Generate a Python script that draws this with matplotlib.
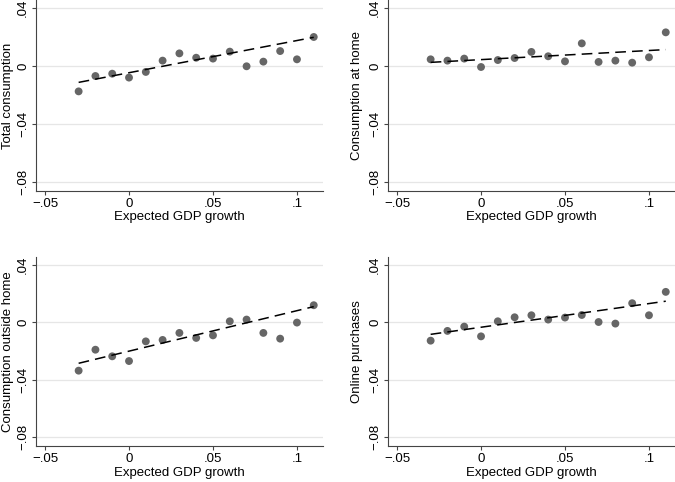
import numpy as np
import matplotlib
matplotlib.use('Agg')
import matplotlib.pyplot as plt

plt.rcParams['font.family'] = ['Liberation Sans', 'DejaVu Sans']

# bin midpoints of expected GDP growth
x = [-0.03, -0.02, -0.01, 0.0, 0.01, 0.02, 0.03, 0.04, 0.05, 0.06, 0.07, 0.08, 0.09, 0.10, 0.11]

total = [-0.0175, -0.0069, -0.0053, -0.0080, -0.0041, 0.0037, 0.0087, 0.0057,
         0.0051, 0.0099, -0.0002, 0.0030, 0.0103, 0.0046, 0.0200]
at_home = [0.0046, 0.0037, 0.0051, -0.0007, 0.0041, 0.0055, 0.0097, 0.0067,
           0.0032, 0.0156, 0.0028, 0.0037, 0.0023, 0.0060, 0.0232]
outside = [-0.0337, -0.0191, -0.0237, -0.0270, -0.0133, -0.0123, -0.0074, -0.0109,
           -0.0091, 0.0007, 0.0019, -0.0074, -0.0114, -0.0002, 0.0119]
online = [-0.0128, -0.0060, -0.0030, -0.0098, 0.0007, 0.0035, 0.0049, 0.0019,
          0.0033, 0.0051, 0.0002, -0.0009, 0.0133, 0.0049, 0.0212]

# fitted lines (intercept, slope) from the underlying regression
fit_total = (-0.00464, 0.222)
fit_home = (0.00439, 0.0629)
fit_outside = (-0.0201, 0.282)
fit_online = (-0.00345, 0.165)

ylabels = ['Total consumption', 'Consumption at home',
           'Consumption outside home', 'Online purchases']
xlabel = 'Expected GDP growth'
xticks = [-0.05, 0, 0.05, 0.1]
xticklabels = ['\u2212.05', '0', '.05', '.1']
yticks = [-0.08, -0.04, 0, 0.04]
yticklabels = ['\u2212.08', '\u2212.04', '0', '.04']

panels = [(total, fit_total), (at_home, fit_home), (outside, fit_outside), (online, fit_online)]

fig = plt.figure(figsize=(6.75, 4.82), dpi=100)
# axes rectangles: [left, bottom, width, height]
boxes = [[0.0533, 0.6037, 0.4252, 0.3963],
         [0.5748, 0.6037, 0.4252, 0.3963],
         [0.0533, 0.0747, 0.4252, 0.3921],
         [0.5748, 0.0747, 0.4252, 0.3921]]
ylab_x = [-0.077, -0.087, -0.077, -0.087]

for i, (ys, fit) in enumerate(panels):
    ax = fig.add_axes(boxes[i])
    ax.set_xlim(-0.0554, 0.1155)
    ax.set_ylim(-0.0862, 0.0455)
    for yt in yticks:
        ax.axhline(yt, color='#e6e6e6', lw=0.9, zorder=0)
    ax.scatter(x, ys, s=32, color='#666666', edgecolors='none', zorder=3)
    xs = np.array([x[0], x[-1]])
    ax.plot(xs, fit[0] + fit[1] * xs, color='black', lw=1.1,
            dashes=(7, 4), zorder=4)
    ax.spines['top'].set_visible(False)
    ax.spines['right'].set_visible(False)
    ax.spines['left'].set_color('#444444')
    ax.spines['bottom'].set_color('#444444')
    ax.set_xticks(xticks)
    ax.set_xticklabels(xticklabels, fontsize=9.5)
    ax.set_yticks(yticks)
    ax.set_yticklabels(yticklabels, fontsize=9.5, rotation=90, va='center')
    ax.tick_params(direction='out', length=3, color='#444444', pad=2)
    ax.set_xlabel(xlabel, fontsize=9.5)
    ax.set_ylabel(ylabels[i], fontsize=9.5)
    ax.xaxis.set_label_coords(0.5, -0.105 if i < 2 else -0.11)
    ax.yaxis.set_label_coords(ylab_x[i], 0.5)

fig.savefig('out.png', dpi=100)
